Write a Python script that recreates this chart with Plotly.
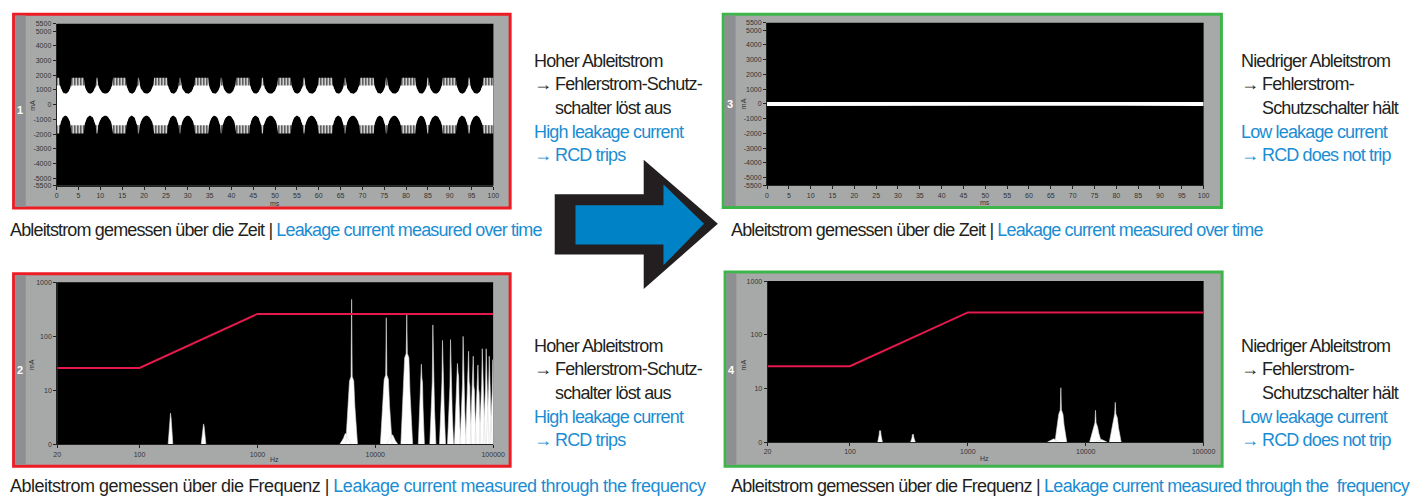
import numpy as np
import plotly.graph_objects as go

W, H = 1420, 499

# ---------------- data ----------------
# Panel 1: leakage current over time (high leakage) – envelope events
p1_plateau_start_ms = [3.4, 12.9, 22.3, 31.7, 41.1, 50.7, 60.0, 69.5, 79.0, 88.4, 97.7]
p1_plateau_end_ms = [6.2, 15.8, 25.3, 34.7, 44.1, 53.6, 63.1, 72.6, 82.1, 91.4, 100.0]
p1_spike_ms = [9.2, 18.7, 28.2, 37.7, 47.1, 56.6, 66.0, 75.5, 85.0, 94.4]
p1_first_dome_start_ms = 0.6
p1_upper_peak_mA = 1830
p1_upper_dome_mA = 740
p1_lower_peak_mA = -1960
p1_lower_dome_mA = -740
p1_upper_solid_mA = 1300
p1_lower_solid_mA = -1400

# Panel 3: leakage current over time (low leakage)
p3_t_ms = [0, 20, 40, 60, 80, 100]
p3_upper_mA = [135, 125, 140, 130, 135, 135]
p3_lower_mA = [-135, -130, -125, -135, -130, -135]

# Panels 2 / 4: spectra (Hz, mA)
p2_peak_hz = [183, 349, 5600, 6300, 12400, 13900, 18500, 24600, 30800, 37200, 43500,
              49800, 55600, 61900, 67800, 74300, 80900, 87300, 92700, 99500]
p2_peak_mA = [3.8, 2.4, 1.6, 484, 221, 1.5, 255, 30.5, 163, 84, 87,
              31.5, 100, 53, 43, 29.6, 59, 59, 43, 37]
p2_shoulder_mA = [2.6, 1.8, 1.3, 15, 16, 1.3, 40, 14, 12, 12, 10,
                  18, 11, 12, 10, 9, 11, 10, 9, 8]

p4_peak_hz = [180, 342, 5300, 6150, 12100, 13500, 17800]
p4_peak_mA = [1.64, 1.38, 1.15, 10.3, 3.9, 1.12, 5.5]
p4_shoulder_mA = [1.35, 1.2, 1.1, 3.3, 1.9, 1.08, 2.8]

# RCD trip limit curve
limit_hz = [20, 100, 1000, 100000]
limit_mA = [26, 26, 260, 260]

# axis ticks
time_ticks_ms = list(range(0, 101, 5))
current_ticks_mA = [-5500, -5000, -4000, -3000, -2000, -1000, 0, 1000, 2000, 3000, 4000, 5000, 5500]
freq_ticks_hz = [20, 100, 1000, 10000, 100000]
freq_tick_text = ["20", "100", "1000", "10000", "100000"]
spec_ticks_mA = [1, 10, 100, 1000]
spec_tick_text = ["0", "10", "100", "1000"]

# texts
side_high_de = ["Hoher Ableitstrom", "→|Fehlerstrom-Schutz-", "|schalter löst aus"]
side_high_en = ["High leakage current", "→|RCD trips"]
side_low_de = ["Niedriger Ableitstrom", "→|Fehlerstrom-", "|Schutzschalter hält"]
side_low_en = ["Low leakage current", "→|RCD does not trip"]
cap_time = ("Ableitstrom gemessen über die Zeit", "Leakage current measured over time")
cap_freq = ("Ableitstrom gemessen über die Frequenz", "Leakage current measured through the frequency")
cap_freq2 = ("Ableitstrom gemessen über die Frequenz", "Leakage current measured through the&nbsp; frequency")

# ---------------- styles ----------------
FONT = "Liberation Sans, Arial, sans-serif"
TXT_SIZE = 18
TIGHT = -0.85
TICKFONT = dict(family="Liberation Sans, Arial, sans-serif", size=7, color="#333333")
BLACK_TXT = "#231F20"
BLUE_TXT = "#1B8DD3"
RED = "#ED1C24"
GREEN = "#3DB54A"
PANEL_GREY = "#A7A9A8"
STRIP_GREY = "#8D8F92"
LIMIT_RED = "#E5194B"


def X(px):
    return px / W


def Y(py):
    return 1 - py / H


# ---------------- envelope construction (panel 1) ----------------
def envelope(peak, dome):
    domes = [(p1_first_dome_start_ms, p1_plateau_start_ms[0])]
    gap = 0.12
    for k in range(len(p1_spike_ms)):
        domes.append((p1_plateau_end_ms[k], p1_spike_ms[k] - gap))
        domes.append((p1_spike_ms[k] + gap, p1_plateau_start_ms[k + 1]))
    ts, vs = [0.0], [peak]
    u = np.linspace(-1, 1, 17)
    for a, b in domes:
        t = (a + b) / 2 + u * (b - a) / 2
        v = peak - (peak - dome) * np.sqrt(np.clip(1 - u ** 2, 0, 1))
        ts += list(t)
        vs += list(v)
    ts.append(100.0)
    vs.append(peak)
    return np.array(ts), np.array(vs)


tu, vu = envelope(p1_upper_peak_mA, p1_upper_dome_mA)
tl, vl = envelope(p1_lower_peak_mA, p1_lower_dome_mA)

outer_x = list(tu) + list(tl[::-1])
outer_y = list(vu) + list(vl[::-1])
inner_x = outer_x
inner_y = list(np.minimum(vu, p1_upper_solid_mA)) + list(np.maximum(vl, p1_lower_solid_mA)[::-1])


def peak_polygons(freqs, heights, shoulders):
    xs, ys = [], []
    for f, h, s in zip(freqs, heights, shoulders):
        lf = np.log10(f)
        if f < 1000:
            bw, sw = 0.02, 0.008
        elif f < 20000:
            bw, sw = 0.05, 0.018
        else:
            bw, sw = 0.026, 0.01
        base = max(1.0, s ** 0.6)
        offs = [-bw, -0.55 * bw, -sw, -0.005, 0, 0.005, sw, 0.55 * bw, bw]
        vals = [1.0, base, s, min(h, s * 1.2), h, min(h, s * 1.2), s, base, 1.0]
        xs += [10 ** (lf + o) for o in offs] + [None]
        ys += vals + [None]
    return xs, ys


fig = go.Figure()

# panel 1 traces
fig.add_trace(go.Scatter(x=outer_x, y=outer_y, mode="lines", fill="toself",
                         line=dict(width=0, color="white"),
                         fillpattern=dict(shape="|", fgcolor="white", bgcolor="#111111",
                                          size=3, solidity=0.55, fillmode="replace"),
                         hoverinfo="skip", xaxis="x", yaxis="y"))
fig.add_trace(go.Scatter(x=inner_x, y=inner_y, mode="lines", fill="toself",
                         fillcolor="white", line=dict(width=0, color="white"),
                         hoverinfo="skip", xaxis="x", yaxis="y"))

# panel 3 trace
fig.add_trace(go.Scatter(x=p3_t_ms + p3_t_ms[::-1], y=p3_upper_mA + p3_lower_mA[::-1],
                         mode="lines", fill="toself", fillcolor="white",
                         line=dict(width=0, color="white"), hoverinfo="skip",
                         xaxis="x3", yaxis="y3"))

# spectra
for (fq, hh, ss, xa, ya) in [(p2_peak_hz, p2_peak_mA, p2_shoulder_mA, "x2", "y2"),
                             (p4_peak_hz, p4_peak_mA, p4_shoulder_mA, "x4", "y4")]:
    px_, py_ = peak_polygons(fq, hh, ss)
    fig.add_trace(go.Scatter(x=px_, y=py_, mode="lines", fill="toself", fillcolor="white",
                             line=dict(width=0.6, color="#dddddd"), hoverinfo="skip",
                             xaxis=xa, yaxis=ya))
    fig.add_trace(go.Scatter(x=limit_hz, y=limit_mA, mode="lines",
                             line=dict(color=LIMIT_RED, width=2), hoverinfo="skip",
                             xaxis=xa, yaxis=ya))

# ---------------- axes ----------------
def base_axis():
    return dict(showline=True, linecolor="#222222", linewidth=1, ticks="outside", ticklen=3,
                tickwidth=1, tickcolor="#222222", tickfont=TICKFONT, showgrid=False,
                zeroline=False, fixedrange=True)


panels = {
    1: (53.3, 495.0, 20.0, 184.3),
    2: (53.8, 494.7, 282.3, 446.7),
    3: (771.7, 1213.3, 19.0, 183.7),
    4: (772.3, 1213.3, 281.0, 444.3),
}

layout_axes = {}
for i, (x0, x1, y0, y1) in panels.items():
    xa = base_axis()
    ya = base_axis()
    xa["domain"] = [X(x0), X(x1)]
    ya["domain"] = [Y(y1), Y(y0)]
    xa["anchor"] = "y" if i == 1 else f"y{i}"
    ya["anchor"] = "x" if i == 1 else f"x{i}"
    if i in (1, 3):
        xa.update(range=[0, 100], tickvals=time_ticks_ms, ticktext=[str(v) for v in time_ticks_ms])
        ya.update(range=[-5500, 5500], tickvals=current_ticks_mA,
                  ticktext=[str(v) for v in current_ticks_mA])
    else:
        xa.update(type="log", range=[np.log10(20), 5], tickvals=freq_ticks_hz, ticktext=freq_tick_text)
        ya.update(type="log", range=[0, 3], tickvals=spec_ticks_mA, ticktext=spec_tick_text)
    key = "" if i == 1 else str(i)
    layout_axes["xaxis" + key] = xa
    layout_axes["yaxis" + key] = ya

# ---------------- shapes ----------------
shapes = []


def prect(x0, y0, x1, y1, fill, line_color=None, lw=0):
    return dict(type="rect", xref="paper", yref="paper", x0=X(x0), x1=X(x1), y0=Y(y1), y1=Y(y0),
                fillcolor=fill, line=dict(color=line_color or fill, width=lw), layer="below")


frames = [((9.7, 10.4, 511.9, 207.0), RED), ((9.7, 273.7, 511.9, 468.7), RED),
          ((727.4, 10.4, 1231.3, 206.3), GREEN), ((729.3, 271.7, 1232.0, 468.7), GREEN)]
strips = [(11.0, 11.7, 22.0, 205.7), (11.0, 275.0, 22.0, 467.3),
          (728.7, 11.7, 740.0, 205.0), (730.7, 273.0, 740.7, 467.3)]
for (x0, y0, x1, y1), col in frames:
    shapes.append(prect(x0, y0, x1, y1, PANEL_GREY, col, 3))
for (x0, y0, x1, y1) in strips:
    shapes.append(prect(x0, y0, x1, y1, STRIP_GREY))
for i in panels:
    k = "" if i == 1 else str(i)
    shapes.append(dict(type="rect", xref=f"x{k} domain", yref=f"y{k} domain", x0=0, x1=1, y0=0, y1=1,
                       fillcolor="black", line=dict(width=0), layer="below"))


def path(points):
    return "M " + " L ".join(f"{X(a):.5f},{Y(b):.5f}" for a, b in points) + " Z"


arrow_outer = [(557, 193), (647, 193), (647, 158), (722, 223), (647, 289), (647, 254), (557, 254)]
arrow_inner = [(578, 204), (667, 204), (667, 183), (708, 223), (667, 265), (667, 244), (578, 244)]
shapes.append(dict(type="path", xref="paper", yref="paper", path=path(arrow_outer),
                   fillcolor="#231F20", line=dict(width=0)))
shapes.append(dict(type="path", xref="paper", yref="paper", path=path(arrow_inner),
                   fillcolor="#0083C6", line=dict(width=0)))

# ---------------- annotations ----------------
ann = []


def txt(x, y, s, color, size=TXT_SIZE, anchor="left", angle=0, family=FONT, spacing=TIGHT):
    if spacing is not None:
        s = f"<span style='letter-spacing:{spacing}px'>{s}</span>"
    ann.append(dict(xref="paper", yref="paper", x=X(x), y=Y(y), text=s, showarrow=False,
                    xanchor=anchor, yanchor="middle", textangle=angle,
                    font=dict(family=family, size=size, color=color)))


def side_block(x, y_top, de_lines, en_lines):
    lines = [(s, BLACK_TXT) for s in de_lines] + [(s, BLUE_TXT) for s in en_lines]
    for j, (s, col) in enumerate(lines):
        y = y_top + j * 24.0
        if "|" in s:
            head, rest = s.split("|")
            if head:
                txt(x, y, head, col)
            txt(x + 21, y, rest, col)
        else:
            txt(x, y, s, col)


side_block(534, 57.5, side_high_de, side_high_en)
side_block(534, 346.5, side_high_de, side_high_en)
side_block(1249, 57.5, side_low_de, side_low_en)
side_block(1249, 346.5, side_low_de, side_low_en)


def caption(x, y, pair, spacing=TIGHT):
    txt(x, y, f"{pair[0]} | <span style='color:{BLUE_TXT}'>{pair[1]}</span>", BLACK_TXT,
        spacing=spacing)


caption(4, 229, cap_time)
caption(733, 229, cap_time)
caption(4, 489, cap_freq, spacing=-0.5)
caption(733, 489, cap_freq2, spacing=-0.75)

LBL = "Liberation Sans, Arial, sans-serif"
for (xx, yy, n) in [(16.5, 108, "1"), (16.5, 371, "2"), (734.3, 101, "3"), (735.7, 371, "4")]:
    ann.append(dict(xref="paper", yref="paper", x=X(xx), y=Y(yy), text=f"<b>{n}</b>", showarrow=False,
                    xanchor="center", yanchor="middle", font=dict(family=LBL, size=11, color="white")))

for (xx, yy, s, ang) in [(28.5, 103, "mA", -90), (274, 202, "ms", 0), (28.5, 366, "mA", -90),
                         (274, 462, "Hz", 0), (748, 101, "mA", -90), (992, 201, "ms", 0),
                         (748, 366, "mA", -90), (992, 461, "Hz", 0)]:
    txt(xx, yy, s, "#333333", size=7, anchor="center", angle=ang, family=LBL, spacing=None)

fig.update_layout(width=W, height=H, margin=dict(l=0, r=0, t=0, b=0),
                  paper_bgcolor="white", plot_bgcolor="black", showlegend=False,
                  shapes=shapes, annotations=ann, **layout_axes)

fig.write_html("out.html", config={"displayModeBar": False})
